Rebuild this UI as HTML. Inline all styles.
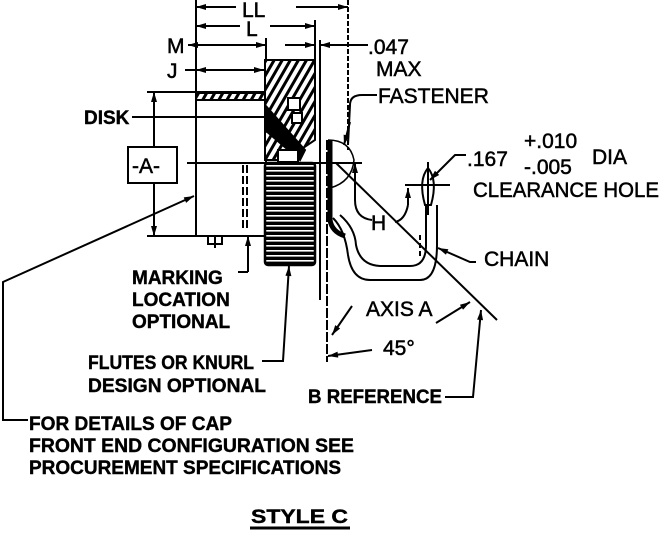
<!DOCTYPE html>
<html><head><meta charset="utf-8"><style>
html,body{margin:0;padding:0;background:#fff;}
svg{display:block;}
text{font-family:"Liberation Sans",sans-serif;fill:#000;}
.b{font-weight:bold;font-size:19px;stroke:#000;stroke-width:0.4px;}
.n{font-size:21px;stroke:#000;stroke-width:0.5px;}
</style></head><body>
<svg width="661" height="539" viewBox="0 0 661 539" xmlns="http://www.w3.org/2000/svg">
<defs>
<marker id="a" viewBox="0 0 10 6" refX="10" refY="3" markerWidth="11" markerHeight="6" orient="auto-start-reverse" markerUnits="userSpaceOnUse"><path d="M0,0 L10,3 L0,6 z" fill="#000"/></marker>
<pattern id="h" width="7" height="7" patternUnits="userSpaceOnUse" patternTransform="rotate(30)"><rect width="7" height="7" fill="#fff"/><rect width="3" height="7" fill="#000"/></pattern>
<pattern id="k" width="4" height="5" patternUnits="userSpaceOnUse"><rect width="4" height="5" fill="#000"/><rect width="4" height="1.6" fill="#fff"/></pattern>
</defs>
<g stroke="#000" stroke-width="2" fill="none">
<line x1="196" y1="0" x2="196" y2="236"/>
<line x1="348" y1="0" x2="348" y2="150" stroke-dasharray="5,2"/>
<line x1="315" y1="20" x2="315" y2="60"/>
<line x1="320" y1="40" x2="320" y2="300"/>
<line x1="266" y1="38" x2="266" y2="60"/>
<line x1="196" y1="7" x2="236" y2="7" marker-start="url(#a)"/>
<line x1="296" y1="7" x2="348" y2="7" marker-end="url(#a)"/>
<line x1="196" y1="26" x2="240" y2="26" marker-start="url(#a)"/>
<line x1="270" y1="26" x2="315" y2="26" marker-end="url(#a)"/>
<line x1="188" y1="45" x2="266" y2="45" marker-start="url(#a)" marker-end="url(#a)"/>
<line x1="285" y1="45" x2="315" y2="45" marker-end="url(#a)"/>
<line x1="320" y1="45" x2="368" y2="45" marker-start="url(#a)"/>
<line x1="185" y1="70" x2="264" y2="70" marker-end="url(#a)"/>
<line x1="196" y1="70" x2="230" y2="70" marker-start="url(#a)"/>
<rect x="196" y="92" width="70" height="144"/>
<rect x="196" y="93" width="94" height="7" fill="url(#h)"/>
<path d="M265,60 H315 V140 L300,150 L298,160 H265 Z" fill="url(#h)"/>
<path d="M265,105 L305,150 L300,160 L265,130 Z" fill="#000"/>
<rect x="288" y="98" width="12" height="12" fill="#fff"/>
<rect x="292" y="113" width="10" height="10" fill="#fff"/>
<rect x="278" y="150" width="20" height="12" fill="#fff"/>
<rect x="265" y="163" width="50" height="102" rx="3" fill="url(#k)" stroke-width="2.5"/>
<line x1="187" y1="163" x2="362" y2="163"/>
<line x1="247" y1="165" x2="247" y2="230" stroke-dasharray="8,3"/>
<line x1="243" y1="165" x2="243" y2="230" stroke-dasharray="8,3"/>
<path d="M208,236 v8 h14 v-8 M215,236 v12"/>
<line x1="248" y1="272" x2="248" y2="236" marker-end="url(#a)"/>
<line x1="248" y1="272" x2="238" y2="272"/>
<path d="M262,361 H283 L289,266" marker-end="url(#a)"/>
<path d="M330,140 V220 Q332,232 345,236" stroke-width="5"/>
<path d="M328,140 Q350,140 354,160 Q352,182 330,188" stroke-width="1.5"/>
<path d="M348,145 L350,105 Q350,95 362,95 H377"/>
<line x1="350" y1="122" x2="344" y2="145" marker-end="url(#a)"/>
<path d="M333,218 Q345,230 348,255 Q352,280 370,280 H420 Q437,280 437,245 V205"/>
<path d="M340,215 Q355,228 356,245 Q360,265 380,266 H410 Q426,266 426,245 V205"/>
<line x1="420" y1="235" x2="420" y2="258" stroke-dasharray="5,3"/>
<path d="M428,168 Q418,180 425,205 h6 Q438,180 428,168 Z"/>
<line x1="428" y1="162" x2="428" y2="215"/>
<line x1="405" y1="185" x2="450" y2="185"/>
<path d="M466,155 H455 L430,180" marker-end="url(#a)"/>
<line x1="355" y1="163" x2="355" y2="200" marker-start="url(#a)"/>
<path d="M355,200 Q355,218 372,220"/>
<line x1="408" y1="188" x2="408" y2="205" marker-start="url(#a)"/>
<path d="M408,205 Q405,220 395,222"/>
<line x1="327" y1="140" x2="327" y2="362" stroke-dasharray="10,2"/>
<line x1="336" y1="163" x2="497" y2="320"/>
<path d="M352,306 L332,335" marker-end="url(#a)"/>
<path d="M436,323 L470,302" marker-end="url(#a)"/>
<line x1="328" y1="356" x2="372" y2="350" marker-start="url(#a)"/>
<path d="M445,397 H473 L481,310" marker-end="url(#a)"/>
<path d="M476,262 H470 L438,248" marker-end="url(#a)"/>
<line x1="147" y1="92" x2="196" y2="92"/>
<line x1="147" y1="236" x2="196" y2="236"/>
<line x1="154" y1="92" x2="154" y2="147" marker-start="url(#a)"/>
<line x1="154" y1="183" x2="154" y2="236" marker-end="url(#a)"/>
<rect x="128" y="147" width="49" height="36"/>
<line x1="132" y1="117" x2="275" y2="117"/>
<path d="M28,420 H3 V282 L194,196" marker-end="url(#a)"/>
<line x1="250" y1="528" x2="350" y2="528" stroke-width="3"/>
</g>
<text class="n" x="242" y="17" font-size="24">LL</text>
<text class="n" x="246" y="36">L</text>
<text class="n" x="167" y="53">M</text>
<text class="n" x="167" y="78">J</text>
<text class="n" x="368" y="54">.047</text>
<text class="n" x="376" y="76">MAX</text>
<text class="n" x="378" y="103">FASTENER</text>
<text class="b" x="84" y="124">DISK</text>
<text class="n" x="132" y="173">-A-</text>
<text class="n" x="467" y="166">.167</text>
<text class="n" x="524" y="148">+.010</text>
<text class="n" x="524" y="174">-.005</text>
<text class="n" x="592" y="164">DIA</text>
<text class="n" x="473" y="197" textLength="186" lengthAdjust="spacingAndGlyphs">CLEARANCE HOLE</text>
<text class="n" x="484" y="266">CHAIN</text>
<text class="n" x="371" y="230">H</text>
<text class="b" x="132" y="284">MARKING</text>
<text class="b" x="132" y="306">LOCATION</text>
<text class="b" x="132" y="328">OPTIONAL</text>
<text class="n" x="366" y="316">AXIS A</text>
<text class="n" x="383" y="355">45°</text>
<text class="b" x="88" y="369" textLength="166" lengthAdjust="spacingAndGlyphs">FLUTES OR KNURL</text>
<text class="b" x="88" y="392" textLength="178" lengthAdjust="spacingAndGlyphs">DESIGN OPTIONAL</text>
<text class="b" x="308" y="403" textLength="134" lengthAdjust="spacingAndGlyphs">B  REFERENCE</text>
<text class="b" x="29" y="430" textLength="203" lengthAdjust="spacingAndGlyphs">FOR DETAILS OF CAP</text>
<text class="b" x="29" y="452" textLength="325" lengthAdjust="spacingAndGlyphs">FRONT END CONFIGURATION SEE</text>
<text class="b" x="29" y="474" textLength="312" lengthAdjust="spacingAndGlyphs">PROCUREMENT SPECIFICATIONS</text>
<text class="b" x="251" y="523" textLength="97" lengthAdjust="spacingAndGlyphs">STYLE  C</text>
</svg>
</body></html>
